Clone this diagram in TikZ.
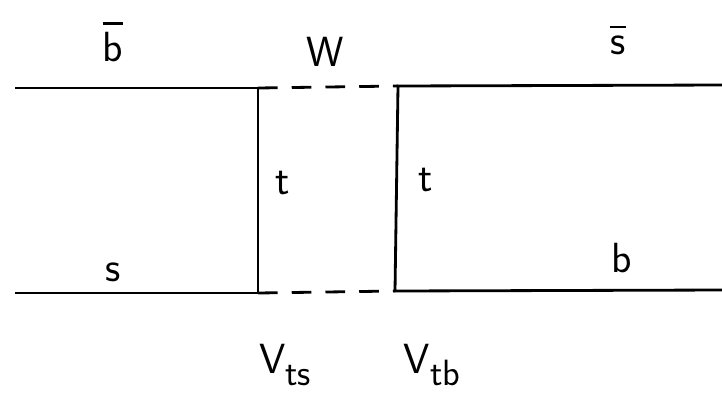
\documentclass[tikz,border=0pt]{standalone}
\usepackage{amsmath}
\usepackage{tikz}
\usetikzlibrary{calc, positioning}

\newcommand{\antiq}[1]{\leavevmode\vbox{\hrule height 2pt\kern 5pt\hbox{#1}}}
\newcommand{\ckm}[1]{V\raisebox{-9pt}{\fontsize{26}{30}\selectfont #1}}

\tikzset{
  quark/.style={line width=2pt},
  boson/.style={line width=2pt, dash pattern=on 14pt off 10pt},
  lbl/.style={font=\fontsize{30}{34}\selectfont\sffamily, inner sep=0pt}
}

\begin{document}
\begin{tikzpicture}[x=0.025cm, y=-0.025cm]
      \useasboundingbox (0, 0) rectangle (722, 404);
      % corners of the box
      \coordinate (tl) at (15, 88);
      \coordinate (tm1) at (258, 88);
      \coordinate (tm2) at (398, 86);
      \coordinate (tr) at (722, 85);
      \coordinate (bl) at (15, 293);
      \coordinate (bm1) at (258, 293);
      \coordinate (bm2) at (395, 291);
      \coordinate (br) at (722, 290);
      \draw[quark] (tl) -- (tm1) -- (bm1) -- (bl);
      \draw[quark] (tr) -- (tm2) -- (bm2) -- (br);
      \draw[boson] (tm1) -- (tm2);
      \draw[boson] (bm1) -- (bm2);
      % labels
      \node[lbl] (bbar) at (113, 42) {\antiq{b}};
      \node[lbl] (w) at (325, 52) {W};
      \node[lbl] (sbar) at (618, 40) {\antiq{s}};
      \node[lbl] (t1) at (283, 183) {t};
      \node[lbl] (t2) at (426, 180) {t};
      \node[lbl] (s) at (113, 272) {s};
      \node[lbl] (b) at (622, 258) {b};
      \node[lbl] (vts) at (285, 365) {\ckm{ts}};
      \node[lbl] (vtb) at (432, 365) {\ckm{tb}};
\end{tikzpicture}
\end{document}
